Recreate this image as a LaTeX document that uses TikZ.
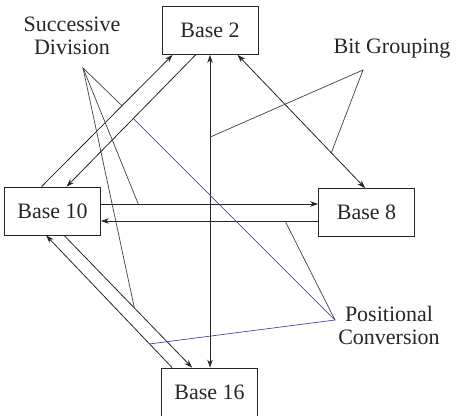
\documentclass[tikz,border=0pt]{standalone}
\usepackage{fontspec}
\setmainfont{Liberation Serif}
\usetikzlibrary{arrows.meta,calc}
\definecolor{penblue}{RGB}{70,70,175}

\begin{document}
\begin{tikzpicture}[x=1pt, y=-1pt, >={Stealth[length=8pt,width=5.5pt]},
  box/.style={draw=black!85, line width=0.8pt, minimum width=96pt, minimum height=48pt,
    inner sep=0pt, text=black!85, font=\fontsize{22}{24}\selectfont},
  conv/.style={line width=0.8pt, draw=black!85},
  lbl/.style={align=center, inner sep=0pt, text=black!85, font=\fontsize{22}{23}\selectfont},
  ptr/.style={line width=0.7pt, draw=black!75}]
  \useasboundingbox (0,0) rectangle (460,415);

  % the four bases
  \node[box] (b2)  at (210,30.5)   {Base 2};
  \node[box] (b10) at (52.5,211)   {Base 10};
  \node[box] (b8)  at (366.5,212.5) {Base 8};
  \node[box] (b16) at (209.5,392)  {Base 16};

  % conversions
  \draw[conv,->] ($(b10.north west)+(37.5,0)$) -- coordinate[pos=0.614] (p102) ($(b2.south west)+(11,0)$);
  \draw[conv,->] ($(b2.south west)+(34,0)$) -- coordinate[pos=0.483] (p210) ($(b10.north west)+(62.5,0)$);
  \draw[conv,<->] ($(b2.south west)+(76,0)$) -- coordinate[pos=0.735] (p28) ($(b8.north west)+(47,0)$);
  \draw[conv,<->] (b2.south) -- coordinate[pos=0.263] (p216) (b2.south |- b16.north);
  \draw[conv,->] ($(b10.east)+(0,-7)$) -- coordinate[pos=0.172] (p108) ($(b8.west |- b10.east)+(0,-7)$);
  \draw[conv,->] ($(b8.west |- b10.east)+(0,10)$) -- coordinate[pos=0.152] (p810) ($(b10.east)+(0,10)$);
  \draw[conv,->] ($(b10.south west)+(60,0)$) -- coordinate[pos=0.549] (p1016) ($(b16.north west)+(31,0)$);
  \draw[conv,->] ($(b16.north west)+(11,0)$) -- coordinate[pos=0.179] (p1610) ($(b10.south west)+(42,0)$);

  % method labels
  \node[lbl] (sdiv)  at (72,36)   {Successive\\Division};
  \node[lbl] (bgrp)  at (392,49)  {Bit Grouping};
  \node[lbl] (pconv) at (389,325) {Positional\\Conversion};
  \coordinate (sd) at (83,68);
  \coordinate (bg) at (363,70);
  \coordinate (pc) at (335,320);

  \draw[ptr] (p102) -- (sd) -- (p108);
  \draw[ptr] (sd) -- (p1016);
  \draw[ptr] (p216) -- (bg) -- (p28);
  \draw[ptr] (p810) -- (pc);
  \draw[ptr,draw=penblue] (p210) -- (pc) -- (p1610);
\end{tikzpicture}
\end{document}
